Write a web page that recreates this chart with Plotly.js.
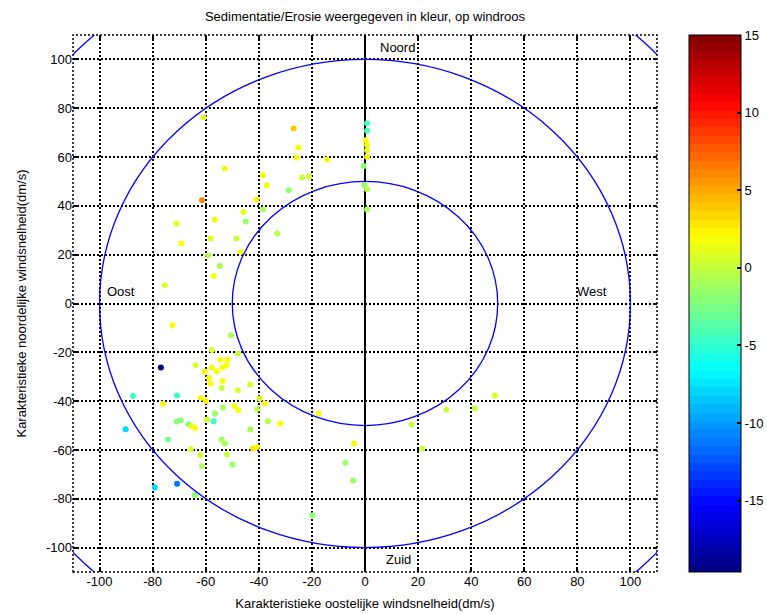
<!DOCTYPE html>
<html>
<head>
<meta charset="utf-8">
<script src="https://cdn.plot.ly/plotly-3.0.1.min.js"></script>
<style>html,body{margin:0;padding:0;background:#fff}#chart{width:767px;height:614px}</style>
</head>
<body>
<div id="chart"></div>
<script>
// East component (dm/s)
const eastX = [
-60.8,-26.9,-25.0,-25.8,-14.3,-52.8,-38.4,-23.7,-21.1,-37.0,-28.7,-40.9,-61.4,-38.4,-45.8,-56.6,-44.9,-33.1,-58.2,-48.4,-69.2,-46.9,-59.1,-71.0,-75.4,-54.7,-57.0,
0.8,0.8,0.3,0.8,0.8,0.8,-0.5,-0.3,0.8,0.8,
-72.5,-50.5,-57.7,-47.9,-76.9,-63.8,-54.5,-51.8,-57.7,-53.7,-52.2,-60.4,-55.9,-58.8,-58.2,-53.7,-43.2,-54.0,-47.9,-87.4,-70.8,-76.1,-61.9,-60.0,-39.7,-40.7,-37.8,-49.2,-47.7,-53.5,-56.5,-59.5,-57.0,-69.4,-70.9,-66.4,-65.5,-64.0,-90.2,-36.6,-31.9,-43.2,-74.2,-54.0,-52.8,-65.6,-42.2,-40.7,-62.0,-52.0,-61.4,-49.9,-79.2,-70.8,-64.1,
-17.4,-4.1,-7.4,-4.5,-19.8,
48.9,30.6,41.3,17.5,21.6
];
// North component (dm/s)
const northY = [
76.2,71.7,63.9,59.8,59.0,55.3,52.5,51.6,52.0,48.4,46.4,42.6,42.3,38.5,37.5,34.4,33.6,28.7,26.6,26.6,24.6,21.1,19.8,32.8,7.5,15.4,11.3,
73.8,70.8,66.9,64.9,62.8,60.1,56.3,48.5,46.8,38.5,
-8.9,-13.0,-19.1,-20.5,-26.2,-25.3,-23.0,-23.0,-26.2,-26.2,-25.3,-27.9,-27.9,-30.5,-32.8,-31.8,-33.2,-34.6,-35.5,-37.9,-37.7,-41.1,-38.7,-39.9,-38.9,-43.3,-41.0,-42.0,-43.7,-42.6,-45.1,-47.5,-48.2,-47.8,-48.3,-49.5,-50.2,-51.0,-51.5,-48.2,-49.2,-51.6,-55.7,-55.7,-57.4,-59.7,-59.4,-58.8,-62.2,-61.9,-66.6,-66.0,-75.4,-73.8,-78.6,
-45.1,-57.4,-65.2,-72.5,-86.8,
-37.7,-43.5,-43.0,-49.6,-59.4
];
// Sedimentation / erosion value
const sedEro = [
1.0,4.0,2.0,2.0,1.5,1.0,2.0,0.0,0.5,1.5,-2.0,2.0,6.0,-1.0,1.0,1.5,-1.5,-0.5,1.0,0.0,1.5,1.5,-0.5,1.0,0.5,-1.0,1.5,
-4.0,-4.0,1.5,1.5,1.0,1.5,-2.0,-1.5,-0.5,-1.0,
2.0,-1.0,0.5,0.0,-19.6,0.5,1.5,2.0,1.5,1.5,1.5,2.0,1.5,2.0,2.0,1.5,0.5,0.0,0.5,-5.0,-4.5,1.5,2.0,1.5,0.5,-0.5,1.5,1.5,2.0,-1.0,-1.5,0.0,-5.0,-2.0,-2.0,-3.0,2.0,2.0,-8.0,-0.5,2.0,-1.0,-2.5,-1.0,-1.0,0.5,3.0,2.0,0.0,0.0,-1.0,-1.5,-8.0,-11.0,-2.0,
2.0,2.5,-1.5,-1.5,-2.0,
0.5,0.0,0.0,0.0,0.0
];
const circleRadii = [50, 100, 150];
const tickVals = [-100,-80,-60,-40,-20,0,20,40,60,80,100];
const cbTicks = [-15,-10,-5,0,5,10,15];
const directionLabels = ['Noord','Oost','West','Zuid'];
const labelX = [5, -98, 79, 7];
const labelY = [105, 5, 5, -105];
const cMin = -19.6, cMax = 15;

// MATLAB-like jet(64) stepped colorscale
function jet(t){
  const c = v => Math.max(0, Math.min(1, v));
  const r = c(1.5 - Math.abs(4*t - 3)), g = c(1.5 - Math.abs(4*t - 2)), b = c(1.5 - Math.abs(4*t - 1));
  return 'rgb(' + Math.round(r*255) + ',' + Math.round(g*255) + ',' + Math.round(b*255) + ')';
}
const N = 64, jetScale = [];
for (let i = 0; i < N; i++) {
  const col = jet((i + 0.5) / N);
  jetScale.push([i / N, col]);
  jetScale.push([(i + 1) / N, col]);
}

const font = {family: 'Liberation Sans, Arial, sans-serif', size: 13, color: '#000'};

const trace = {
  type: 'scatter', mode: 'markers',
  x: eastX, y: northY,
  marker: {
    size: 6, color: sedEro, colorscale: jetScale, cmin: cMin, cmax: cMax,
    line: {width: 0},
    colorbar: {
      x: 1.0548, xanchor: 'left', xpad: 0, y: 0.5, yanchor: 'middle', ypad: 0,
      len: 1, lenmode: 'fraction', thickness: 52, thicknessmode: 'pixels',
      outlinecolor: '#000', outlinewidth: 1,
      tickvals: cbTicks, ticktext: cbTicks.map(String),
      ticks: 'inside', ticklen: 4, tickcolor: '#000', tickwidth: 2,
      tickfont: font
    }
  },
  showlegend: false, hoverinfo: 'skip'
};

const shapes = circleRadii.map(r => ({
  type: 'circle', xref: 'x', yref: 'y', x0: -r, y0: -r, x1: r, y1: r,
  line: {color: '#0000ff', width: 1.3}, layer: 'above'
}));
shapes.push({type: 'rect', xref: 'paper', yref: 'paper', x0: 0, y0: 0, x1: 1, y1: 1,
  line: {color: '#000', width: 1.5, dash: '2px,2px'}, layer: 'above'});

const annotations = directionLabels.map((t, i) => ({
  text: t, x: labelX[i], y: labelY[i], xref: 'x', yref: 'y',
  xanchor: 'left', yanchor: 'middle', showarrow: false, font: font
}));

const axisCommon = {
  range: [-110, 110], tickvals: tickVals, ticktext: tickVals.map(String),
  showgrid: true, gridcolor: '#000', gridwidth: 2, griddash: '2px,2px',
  ticks: 'inside', ticklen: 4, tickwidth: 2, tickcolor: '#000',
  showline: false, mirror: 'ticks', tickfont: font, fixedrange: true, automargin: false
};

const layout = {
  width: 767, height: 614,
  margin: {l: 73, r: 110, t: 35, b: 42, autoexpand: false},
  paper_bgcolor: '#fff', plot_bgcolor: '#fff',
  font: font,
  title: {text: 'Sedimentatie/Erosie weergegeven in kleur, op windroos', font: font,
    x: 0.5, xref: 'paper', xanchor: 'center', y: 1, yref: 'paper', yanchor: 'bottom', pad: {b: 14}},
  xaxis: Object.assign({}, axisCommon, {
    zeroline: true, zerolinecolor: '#000', zerolinewidth: 2,
    title: {text: 'Karakteristieke oostelijke windsnelheid(dm/s)', font: font, standoff: 10}
  }),
  yaxis: Object.assign({}, axisCommon, {
    zeroline: false,
    title: {text: 'Karakteristieke noordelijke windsnelheid(dm/s)', font: font, standoff: 16}
  }),
  shapes: shapes, annotations: annotations
};

Plotly.newPlot('chart', [trace], layout, {displayModeBar: false, staticPlot: true});
</script>
</body>
</html>
